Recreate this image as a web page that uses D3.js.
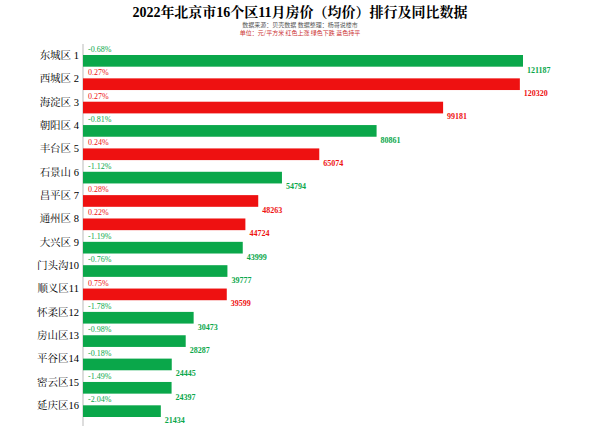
<!DOCTYPE html><html><head><meta charset="utf-8"><script src="https://cdn.jsdelivr.net/npm/d3@7"></script>
<style>body{margin:0;background:#fff}</style></head><body><svg width="600" height="435"></svg><script>
const districts=["东城区 1","西城区 2","海淀区 3","朝阳区 4","丰台区 5","石景山 6","昌平区 7","通州区 8","大兴区 9","门头沟10","顺义区11","怀柔区12","房山区13","平谷区14","密云区15","延庆区16"];
const prices=[121187,120320,99181,80861,65074,54794,48263,44724,43999,39777,39599,30473,28287,24445,24397,21434];
const changes=["-0.68%","0.27%","0.27%","-0.81%","0.24%","-1.12%","0.28%","0.22%","-1.19%","-0.76%","0.75%","-1.78%","-0.98%","-0.18%","-1.49%","-2.04%"];
const svg=d3.select("svg");
const serif="'Liberation Serif','Noto Serif CJK SC','Noto Sans CJK SC',serif";
const x=d3.scaleLinear().domain([0,121187]).range([83,523]);
const y=d3.scaleBand().domain(districts).range([48,424]).paddingInner(0.5).paddingOuter(0.3);
const col=c=>c.startsWith("-")?"#0aa74a":"#ee1111";
svg.append("text").attr("x",300).attr("y",17).attr("text-anchor","middle").attr("font-family",serif).attr("font-weight","bold").attr("font-size",14).text("2022年北京市16个区11月房价（均价）排行及同比数据");
svg.append("text").attr("x",300).attr("y",27).attr("text-anchor","middle").attr("font-family","Noto Sans CJK SC").attr("font-size",6).attr("fill","#555").text("数据来源：贝壳数据        数据整理：杨哥说楼市");
svg.append("text").attr("x",300).attr("y",35).attr("text-anchor","middle").attr("font-family","Noto Sans CJK SC").attr("font-size",6).attr("fill","#c33").text("单位：元/平方米     红色上涨     绿色下跌     蓝色持平");
svg.append("line").attr("x1",83).attr("x2",83).attr("y1",44).attr("y2",426).attr("stroke","#bbb");
const g=svg.selectAll("g.r").data(districts).enter().append("g");
g.append("rect").attr("x",x(0)).attr("y",d=>y(d)).attr("height",y.bandwidth()).attr("width",(d,i)=>x(prices[i])-x(0)).attr("fill",(d,i)=>col(changes[i]));
g.append("text").attr("x",79).attr("y",d=>y(d)+y.bandwidth()/2-2).attr("text-anchor","end").attr("font-family",serif).attr("font-size",10.5).text(d=>d);
g.append("text").attr("x",88).attr("y",d=>y(d)-3).attr("font-family",serif).attr("font-size",8).attr("fill",(d,i)=>col(changes[i])).text((d,i)=>changes[i]);
g.append("text").attr("x",(d,i)=>x(prices[i])+4).attr("y",d=>y(d)+y.bandwidth()+6).attr("font-family",serif).attr("font-size",8).attr("font-weight","bold").attr("fill",(d,i)=>col(changes[i])).text((d,i)=>prices[i]);
</script></body></html>
